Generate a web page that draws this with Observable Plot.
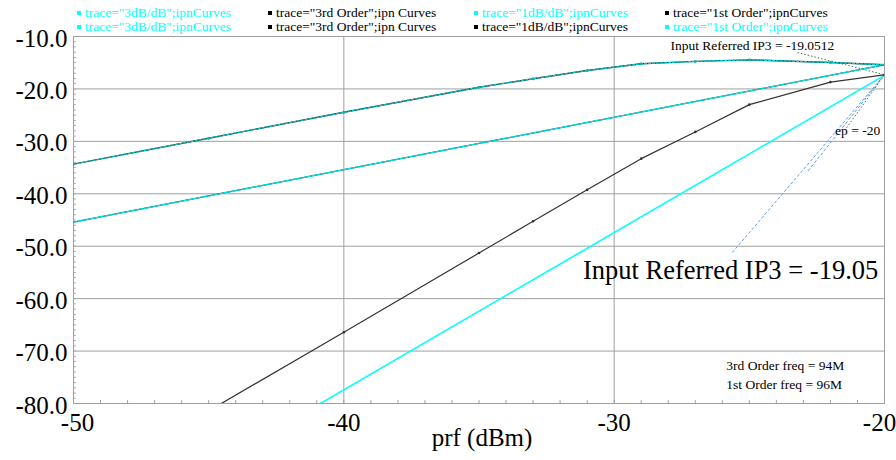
<!DOCTYPE html>
<html>
<head>
<meta charset="utf-8">
<script src="https://cdn.jsdelivr.net/npm/d3@7"></script>
<script src="https://cdn.jsdelivr.net/npm/@observablehq/plot@0.6"></script>
<style>
  body { margin: 0; background: white; font-family: "Liberation Serif", "DejaVu Serif", serif; }
  #legend { position: relative; width: 896px; height: 32px; font-size: 13.5px; }
  .item { position: absolute; white-space: pre; line-height: 14px; }
  .sq { display: inline-block; width: 4px; height: 4px; margin-right: 4px; vertical-align: middle; position: relative; top: -1px; }
  #chart svg { overflow: visible; }
  #chart svg text { font-family: "Liberation Serif", serif; }
</style>
</head>
<body>
<div id="legend"></div>
<div id="chart"></div>
<script>
// ---- data ----
const prf = [-50, -45, -40, -35, -33, -31, -29, -27, -25, -22, -20];
const firstOrder = [-34.35, -29.4, -24.45, -19.67, -18.07, -16.49, -15.21, -14.75, -14.45, -14.95, -15.4];
const thirdOrder = [-96.4, -81.4, -66.4, -51.3, -45.25, -39.25, -33.3, -28.2, -23.0, -18.7, -17.3];
const extPrf = [-50, -20];
const oneDbPerDb = [-45.4, -15.4];
const threeDbPerDb = [-107.4, -17.4];
const xTicks = [-50, -40, -30, -20];
const yTicks = [-80, -70, -60, -50, -40, -30, -20, -10];
const legendRows = [
  [["trace=\"3dB/dB\";ipnCurves", "cyan"], ["trace=\"3rd Order\";ipn Curves", "black"], ["trace=\"1dB/dB\";ipnCurves", "cyan"], ["trace=\"1st Order\";ipnCurves", "black"]],
  [["trace=\"3dB/dB\";ipnCurves", "cyan"], ["trace=\"3rd Order\";ipn Curves", "black"], ["trace=\"1dB/dB\";ipnCurves", "black"], ["trace=\"1st Order\";ipnCurves", "cyan"]]
];
const ip3Label = "Input Referred IP3 = -19.05";
const ip3Small = "Input Referred IP3 = -19.0512";
const epLabel = "ep = -20";
const freqNotes = ["3rd Order freq = 94M", "1st Order freq = 96M"];

// ---- legend ----
const legendX = [77, 268, 474, 665];
const legendY = [6, 20];
const lg = document.getElementById("legend");
legendRows.forEach((row, ri) => row.forEach(([label, color], ci) => {
  const d = document.createElement("div");
  d.className = "item";
  d.style.left = legendX[ci] + "px";
  d.style.top = legendY[ri] + "px";
  d.style.color = color;
  const s = document.createElement("span");
  s.className = "sq";
  s.style.background = color;
  d.appendChild(s);
  d.appendChild(document.createTextNode(label));
  lg.appendChild(d);
}));

// ---- tables ----
const curve1 = prf.map((x, i) => ({x, y: firstOrder[i]}));
const curve3 = prf.map((x, i) => ({x, y: thirdOrder[i]}));
const line1 = extPrf.map((x, i) => ({x, y: oneDbPerDb[i]}));
const line3 = extPrf.map((x, i) => ({x, y: threeDbPerDb[i]}));
const minorX = d3.range(-50, -19, 1);
const minorY = d3.range(-80, -9, 1);
const ip3Point = {x: -20, y: -17.3};

const grey = "#a0a0a0";
const cyan = "#00ffff";
const serif = "Liberation Serif";
const lk = {x1: "x1", y1: "y1", x2: "x2", y2: "y2", strokeWidth: 1};

const chart = Plot.plot({
  width: 896,
  height: 428,
  marginLeft: 73,
  marginRight: 12,
  marginTop: 4,
  marginBottom: 57,
  style: {fontFamily: "'Liberation Serif', serif", fontSize: "25px", background: "white", overflow: "visible"},
  x: {domain: [-50, -20]},
  y: {domain: [-80, -10]},
  marks: [
    Plot.gridX(xTicks, {stroke: grey, strokeOpacity: 1}),
    Plot.gridY(yTicks, {stroke: grey, strokeOpacity: 1}),
    Plot.ruleX(minorX, {x: d => d, y1: -80, y2: -79.45, stroke: grey}),
    Plot.ruleY(minorY, {y: d => d, x1: -50, x2: -49.9, stroke: grey}),
    Plot.frame({stroke: grey}),
    // annotation leader lines
    Plot.link([{x1: -23.22, y1: -13.05, x2: ip3Point.x, y2: ip3Point.y}], {...lk, stroke: "#3c7a4c", strokeDasharray: "1.5,2"}),
    Plot.link([{x1: -21.4, y1: -27.4, x2: ip3Point.x, y2: ip3Point.y}], {...lk, stroke: "#3c7a4c", strokeDasharray: "1.5,2"}),
    Plot.link([{x1: -25.63, y1: -51.2, x2: ip3Point.x, y2: ip3Point.y}], {...lk, stroke: "#5a9bef", strokeDasharray: "3,2"}),
    Plot.link([{x1: -22.82, y1: -35.6, x2: ip3Point.x, y2: ip3Point.y}], {...lk, stroke: "#5a9bef", strokeDasharray: "3,2"}),
    // 3dB/dB extrapolation
    Plot.line(line3, {x: "x", y: "y", stroke: cyan, strokeWidth: 1.6, clip: true}),
    // 1dB/dB extrapolation (black + cyan overlaid)
    Plot.line(line1, {x: "x", y: "y", stroke: "#1a4040", strokeWidth: 1.3, clip: true}),
    Plot.line(line1, {x: "x", y: "y", stroke: "#00e8e8", strokeWidth: 1.3, strokeDasharray: "3,1.5", clip: true}),
    // 3rd order
    Plot.line(curve3, {x: "x", y: "y", stroke: "#333333", strokeWidth: 1.2, clip: true}),
    Plot.dot(curve3.filter(d => d.y > -80), {x: "x", y: "y", r: 1.3, fill: "#333333", stroke: null, clip: true}),
    // 1st order (black + cyan overlaid)
    Plot.line(curve1, {x: "x", y: "y", stroke: "#1a4040", strokeWidth: 1.4, clip: true}),
    Plot.line(curve1, {x: "x", y: "y", stroke: "#00d0d0", strokeWidth: 1.2, strokeDasharray: "2,2", clip: true}),
    Plot.dot(curve1, {x: "x", y: "y", r: 1.5, fill: "#10b0b0", stroke: null, clip: true}),
    // axes
    Plot.axisY(yTicks, {tickSize: 0, tickPadding: 6, dy: 2, tickFormat: d => d.toFixed(1), fontSize: 25, fontFamily: serif, fill: "black", label: null}),
    Plot.axisX([xTicks[0]], {tickSize: 0, tickPadding: 10, dx: 4, tickFormat: d => String(d), fontSize: 25, fontFamily: serif, fill: "black", label: null}),
    Plot.axisX(xTicks.slice(1, -1), {tickSize: 0, tickPadding: 10, tickFormat: d => String(d), fontSize: 25, fontFamily: serif, fill: "black", label: null}),
    Plot.axisX([xTicks[xTicks.length - 1]], {tickSize: 0, tickPadding: 10, dx: -5, tickFormat: d => String(d), fontSize: 25, fontFamily: serif, fill: "black", label: null}),
    Plot.text(["prf (dBm)"], {frameAnchor: "bottom", dy: 42, dx: 3, fontSize: 25, fontFamily: serif, fill: "black"}),
    // annotations
    Plot.text([ip3Small], {x: -27.92, y: -11.72, text: d => d, textAnchor: "start", fontSize: 13.5, fontFamily: serif, fill: "black"}),
    Plot.text([epLabel], {x: -20.16, y: -27.94, text: d => d, textAnchor: "end", fontSize: 13.5, fontFamily: serif, fill: "black"}),
    Plot.text([ip3Label], {x: -20.23, y: -54.65, text: d => d, textAnchor: "end", fontSize: 26.5, fontFamily: serif, fill: "black"}),
    Plot.text(freqNotes, {x: -25.85, y: (d, i) => [-72.8, -76.4][i], text: d => d, textAnchor: "start", fontSize: 13.5, fontFamily: serif, fill: "black"})
  ]
});
document.getElementById("chart").appendChild(chart);
</script>
</body>
</html>
